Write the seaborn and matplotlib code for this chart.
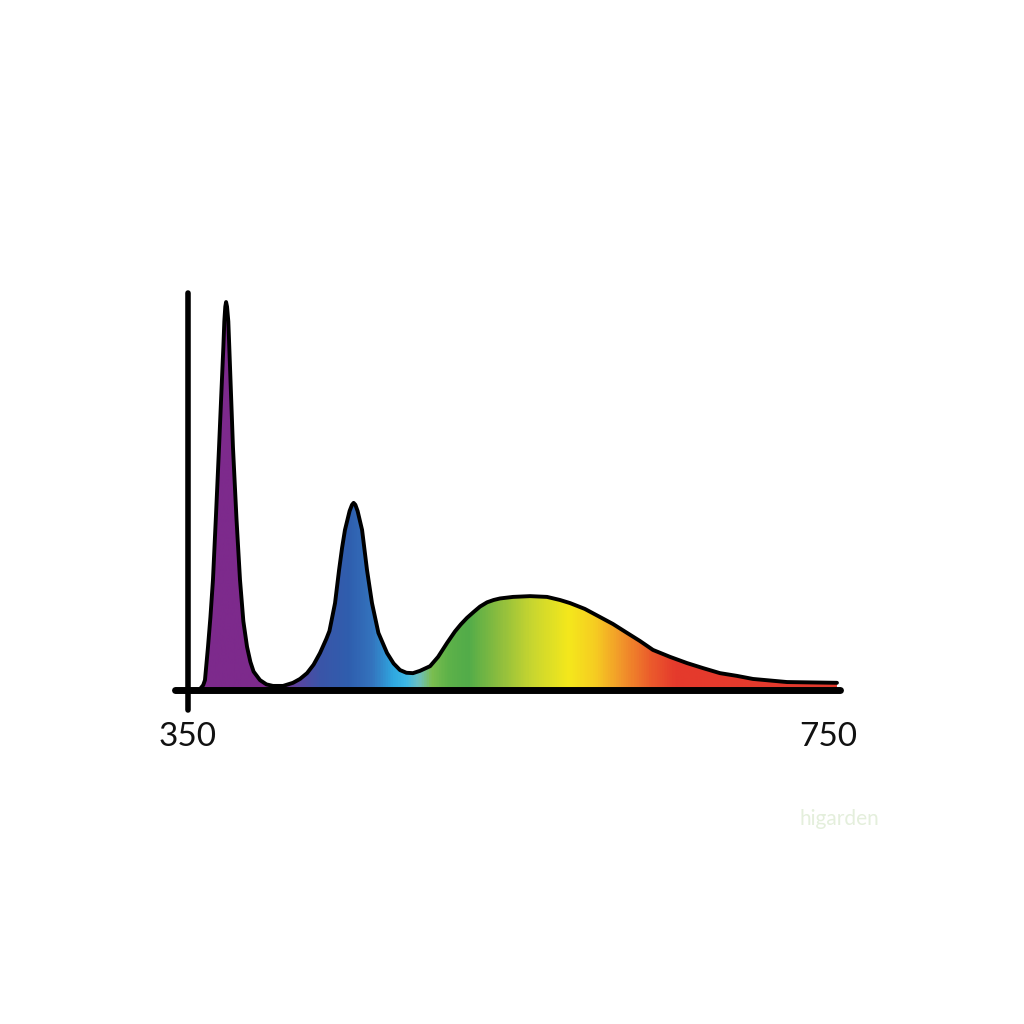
import numpy as np
import pandas as pd
import matplotlib
matplotlib.use("Agg")
import matplotlib.pyplot as plt
from matplotlib.colors import LinearSegmentedColormap
import seaborn as sns

# spectrum: wavelength (nm) and relative intensity (%)
wavelength_nm = [357.5, 359.5, 360.6, 362.5, 364.0, 365.6, 367.5, 369.4, 370.8, 372.1,
                 372.7, 373.3, 373.8, 374.4, 375.2, 375.8, 376.9, 378.1, 380.3, 382.5,
                 384.6, 386.9, 389.0, 391.0, 395.0, 399.0, 403.1, 409.4, 415.6, 420.0,
                 424.4, 428.5, 432.5, 436.5, 438.4, 441.9, 444.4, 446.3, 448.1, 451.0,
                 452.5, 453.5, 454.6, 456.0, 458.8, 461.9, 465.0, 469.0, 474.4, 478.5,
                 482.5, 486.5, 490.6, 495.0, 501.3, 506.3, 511.9, 516.9, 520.5, 524.4,
                 528.5, 532.5, 536.9, 541.0, 545.0, 553.1, 563.8, 574.4, 582.5, 588.8,
                 598.0, 607.5, 615.6, 624.4, 632.5, 640.6, 651.3, 661.9, 671.9, 682.5,
                 693.0, 703.1, 724.4, 755.6]
intensity = [0.0, 1.0, 2.3, 10.9, 18.5, 28.2, 45.0, 62.5, 76.0, 88.4,
             95.0, 98.8, 100.0, 98.8, 95.0, 88.4, 76.0, 62.5, 44.0, 28.2,
             17.5, 10.9, 7.0, 4.5, 2.3, 1.2, 0.8, 0.8, 1.6, 2.6,
             4.1, 6.3, 9.3, 13.0, 15.0, 22.2, 30.7, 36.5, 41.1, 46.0,
             47.6, 48.1, 47.6, 46.0, 41.1, 30.7, 22.2, 14.5, 9.3, 6.6,
             4.9, 4.2, 4.1, 4.7, 5.9, 8.3, 11.9, 14.9, 16.7, 18.4,
             19.9, 21.3, 22.4, 23.0, 23.4, 23.8, 24.0, 23.8, 23.0, 22.2,
             20.7, 18.6, 16.8, 14.5, 12.4, 10.1, 8.3, 6.7, 5.4, 4.1,
             3.4, 2.6, 1.8, 1.6]

# fill colours along the wavelength axis
color_nm = [350, 405, 418, 432, 450, 465, 478, 486, 494, 502, 512, 525,
            545, 565, 588, 605, 620, 640, 655, 760]
color_hex = ["#7d2a8c", "#7d2a8c", "#5a45a0", "#3a55a8", "#2f5eae", "#3474be",
             "#2fa8e0", "#3db8e6", "#6cc0c0", "#7cbe50", "#5eb249", "#52ac4a",
             "#8ebe3e", "#c8d630", "#f4e81c", "#f6cc22", "#f29a2a", "#eb5a2c",
             "#e53a2c", "#e23a2e"]

tick_values = [350, 750]
tick_labels = ["350", "750"]

sns.set_style("white")
plt.rcParams["font.family"] = ["Lato", "DejaVu Sans"]

df = pd.DataFrame({"wavelength": wavelength_nm, "intensity": intensity})

fig = plt.figure(figsize=(10.24, 10.24), dpi=100)
ax = fig.add_axes([0, 0, 1, 1])
ax.set_xlim(232.5, 872.5)
ax.set_ylim(-86.56, 178.04)
ax.axis("off")

# gradient fill clipped to the area under the curve
lo, hi = color_nm[0], color_nm[-1]
cmap = LinearSegmentedColormap.from_list(
    "spec", [((c - lo) / (hi - lo), h) for c, h in zip(color_nm, color_hex)])
grad = np.linspace(0, 1, 800).reshape(1, -1)
im = ax.imshow(grad, cmap=cmap, aspect="auto", extent=(lo, hi, 0, 101),
               interpolation="bilinear", zorder=1)
poly = ax.fill_between(df["wavelength"], 0, df["intensity"], color="none", lw=0)
im.set_clip_path(poly.get_paths()[0], transform=ax.transData)

# outline
sns.lineplot(data=df, x="wavelength", y="intensity", color="black", lw=2.8,
             sort=False, ax=ax, zorder=3, solid_joinstyle="round",
             solid_capstyle="round")

# axes drawn by hand
ax.plot([341.9, 757.5], [-0.3, -0.3], color="black", lw=5, solid_capstyle="round", zorder=4)
ax.plot([350, 350], [-5.4, 102.3], color="black", lw=4, solid_capstyle="round", zorder=4)

for v, lab in zip(tick_values, tick_labels):
    ax.text(v, -12.4, lab, ha="center", va="center", fontsize=24, color="#111111")

# faint watermark
ax.text(757, -33.6, "higarden", ha="center", va="center", fontsize=15,
        color="#e4efdc", zorder=0)

fig.savefig("out.png", dpi=100)
